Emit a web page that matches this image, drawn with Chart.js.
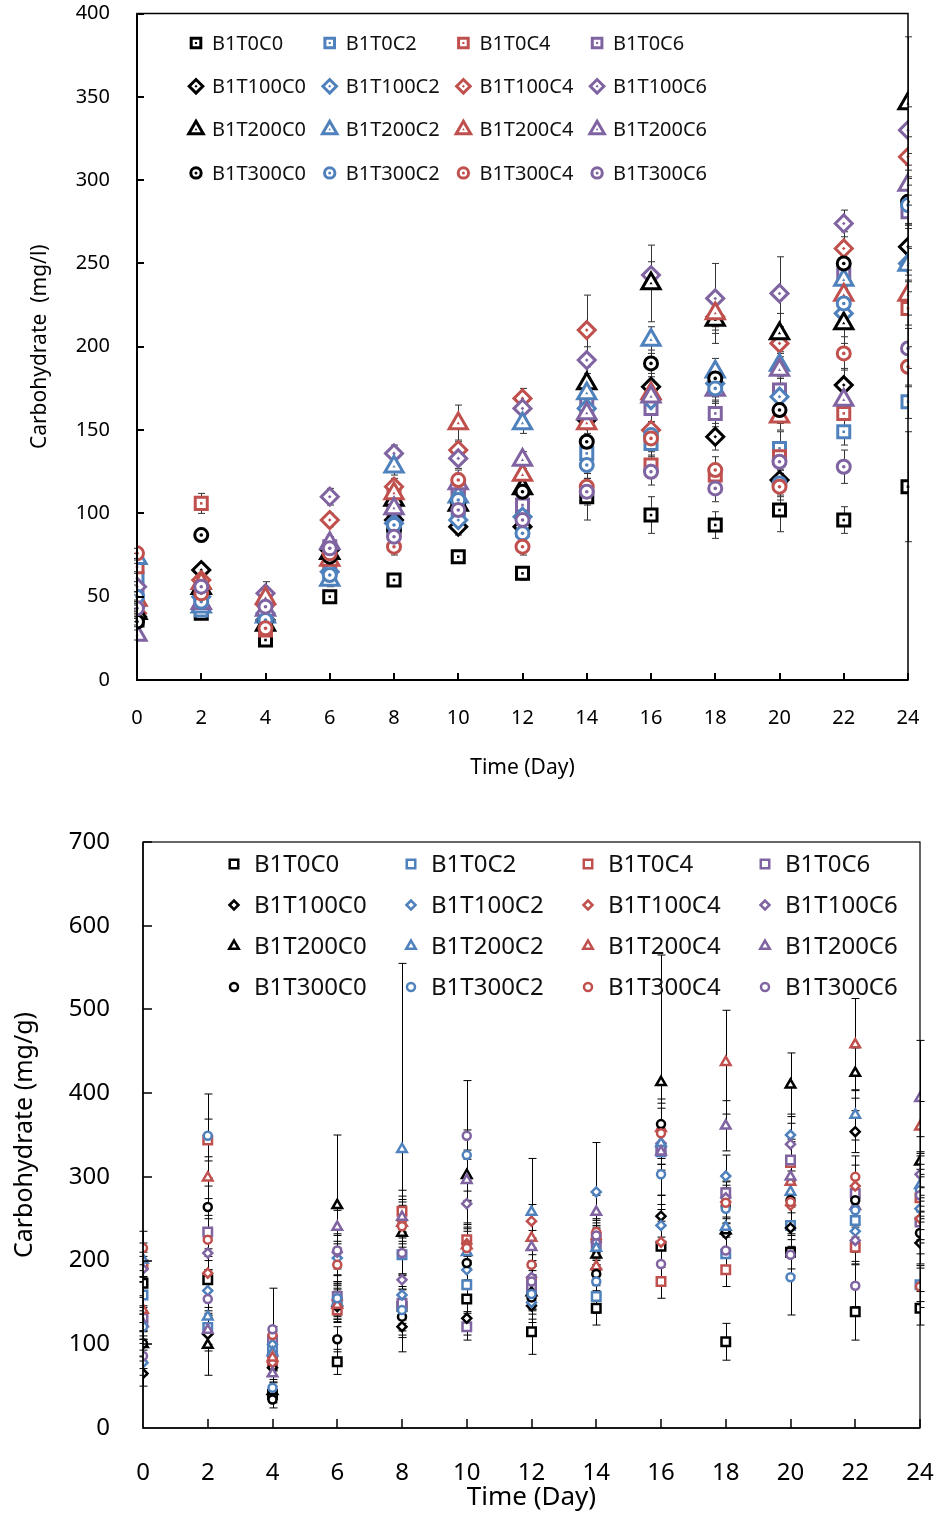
<!doctype html>
<html lang="en">
<head>
<meta charset="utf-8">
<script src="https://cdn.jsdelivr.net/npm/chart.js"></script>
<style>
  html, body { margin: 0; padding: 0; background: #fff; }
  .panel { position: absolute; left: 0; }
  canvas { display: block; }
</style>
</head>
<body>
<div class="panel" style="top:0"><canvas id="liquidChart" width="937" height="790"></canvas></div>
<div class="panel" style="top:790px"><canvas id="cellChart" width="937" height="725"></canvas></div>
<script>
// sampling days and series names
const days = [0, 2, 4, 6, 8, 10, 12, 14, 16, 18, 20, 22, 24];
const seriesLabels = ['B1T0C0', 'B1T0C2', 'B1T0C4', 'B1T0C6',
                      'B1T100C0', 'B1T100C2', 'B1T100C4', 'B1T100C6',
                      'B1T200C0', 'B1T200C2', 'B1T200C4', 'B1T200C6',
                      'B1T300C0', 'B1T300C2', 'B1T300C4', 'B1T300C6'];
const mglTicks = [0, 50, 100, 150, 200, 250, 300, 350, 400];
const mggTicks = [0, 100, 200, 300, 400, 500, 600, 700];
const dayTicks = [0, 2, 4, 6, 8, 10, 12, 14, 16, 18, 20, 22, 24];

// carbohydrate in medium (mg/l)
const mglT0C0   = [36, 40, 24, 50, 60, 74, 64, 110, 99, 93, 102, 96, 116];
const mglT0C2   = [61, 42, 33, 62, 92, 100, 90, 136, 142, 176, 139, 149, 167];
const mglT0C4   = [68, 106, 30, 70, 110, 112, 100, 158, 129, 123, 134, 160, 223];
const mglT0C6   = [50, 48, 38, 80, 100, 115, 105, 167, 163, 160, 174, 243, 281];
const mglT100C0 = [38, 66, 36, 78, 96, 92, 92, 156, 176, 146, 120, 177, 260];
const mglT100C2 = [45, 50, 40, 65, 94, 96, 98, 163, 168, 178, 170, 220, 250];
const mglT100C4 = [40, 60, 45, 96, 116, 138, 169, 210, 150, 218, 202, 259, 314];
const mglT100C6 = [56, 55, 52, 110, 136, 133, 163, 192, 243, 229, 232, 274, 330];
const mglT200C0 = [40, 55, 33, 76, 108, 105, 115, 178, 238, 216, 208, 214, 346];
const mglT200C2 = [73, 44, 38, 60, 128, 110, 154, 172, 204, 185, 189, 240, 249];
const mglT200C4 = [48, 58, 49, 72, 112, 154, 123, 154, 172, 220, 158, 231, 231];
const mglT200C6 = [27, 46, 42, 82, 103, 118, 132, 160, 170, 174, 186, 168, 297];
const mglT300C0 = [35, 87, 35, 74, 90, 106, 113, 143, 190, 181, 162, 250, 287];
const mglT300C2 = [50, 47, 36, 63, 93, 108, 88, 129, 147, 175, 118, 226, 285];
const mglT300C4 = [76, 52, 31, 76, 80, 120, 80, 116, 145, 126, 116, 196, 188];
const mglT300C6 = [43, 56, 44, 79, 86, 102, 96, 113, 125, 115, 131, 128, 199];

// standard deviations (mg/l)
const mglT0C0Sd   = [3, 3, 3, 3, 3, 3, 4, 14, 11, 8, 13, 8, 33];
const mglT0C2Sd   = [4, 4, 3, 4, 4, 5, 4, 6, 8, 6, 10, 8, 10];
const mglT0C4Sd   = [4, 6, 3, 4, 5, 5, 4, 6, 6, 5, 8, 8, 10];
const mglT0C6Sd   = [3, 3, 3, 4, 4, 5, 5, 6, 8, 8, 8, 8, 10];
const mglT100C0Sd = [3, 4, 3, 4, 5, 5, 4, 8, 8, 8, 9, 10, 14];
const mglT100C2Sd = [3, 3, 3, 3, 4, 5, 4, 6, 8, 8, 8, 8, 10];
const mglT100C4Sd = [3, 4, 3, 4, 5, 6, 6, 21, 10, 8, 10, 10, 12];
const mglT100C6Sd = [3, 3, 7, 5, 5, 6, 6, 8, 8, 21, 22, 8, 14];
const mglT200C0Sd = [3, 3, 3, 4, 5, 6, 5, 10, 23, 14, 12, 12, 40];
const mglT200C2Sd = [3, 3, 3, 4, 5, 6, 6, 8, 8, 8, 8, 10, 10];
const mglT200C4Sd = [3, 3, 3, 4, 5, 11, 6, 8, 8, 8, 8, 10, 12];
const mglT200C6Sd = [3, 3, 3, 4, 5, 6, 5, 8, 8, 8, 8, 10, 12];
const mglT300C0Sd = [3, 4, 3, 4, 5, 6, 5, 8, 8, 8, 8, 10, 14];
const mglT300C2Sd = [3, 3, 3, 4, 5, 6, 5, 8, 8, 8, 8, 10, 12];
const mglT300C4Sd = [3, 3, 3, 4, 5, 6, 5, 8, 8, 8, 8, 10, 12];
const mglT300C6Sd = [3, 3, 3, 4, 5, 6, 5, 8, 8, 8, 8, 10, 12];

// carbohydrate in cells (mg/g)
const mggT0C0   = [173, 177, 40, 79, 145, 154, 115, 143, 217, 103, 210, 139, 143];
const mggT0C2   = [159, 120, 95, 150, 207, 171, 165, 157, 330, 208, 242, 248, 171];
const mggT0C4   = [195, 344, 80, 141, 259, 225, 175, 228, 175, 189, 317, 216, 275];
const mggT0C6   = [131, 234, 105, 157, 149, 121, 170, 220, 333, 281, 320, 280, 246];
const mggT100C0 = [65, 112, 72, 145, 121, 131, 146, 190, 253, 232, 239, 354, 221];
const mggT100C2 = [78, 164, 100, 203, 159, 189, 150, 282, 242, 301, 350, 235, 262];
const mggT100C4 = [121, 185, 78, 153, 248, 220, 247, 225, 222, 270, 266, 289, 250];
const mggT100C6 = [190, 209, 88, 210, 177, 268, 180, 222, 340, 275, 339, 224, 303];
const mggT200C0 = [100, 99, 44, 266, 233, 302, 162, 207, 413, 236, 410, 424, 318];
const mggT200C2 = [201, 133, 90, 150, 333, 210, 258, 215, 340, 240, 282, 374, 290];
const mggT200C4 = [141, 299, 84, 147, 245, 218, 227, 193, 358, 437, 294, 458, 360];
const mggT200C6 = [125, 117, 65, 240, 252, 296, 216, 258, 330, 361, 300, 265, 394];
const mggT300C0 = [101, 264, 34, 106, 133, 197, 156, 184, 363, 265, 272, 272, 233];
const mggT300C2 = [121, 349, 48, 155, 141, 326, 160, 175, 303, 262, 180, 260, 284];
const mggT300C4 = [215, 225, 111, 195, 241, 215, 195, 234, 352, 269, 270, 300, 169];
const mggT300C6 = [86, 154, 118, 212, 209, 349, 175, 230, 196, 212, 207, 170, 278];

// standard deviations (mg/g)
const mggT0C0Sd   = [15, 12, 10, 15, 20, 15, 27, 20, 25, 22, 20, 34, 20];
const mggT0C2Sd   = [15, 20, 10, 15, 25, 20, 18, 20, 25, 20, 25, 20, 20];
const mggT0C4Sd   = [15, 25, 10, 15, 25, 20, 18, 20, 20, 20, 25, 20, 25];
const mggT0C6Sd   = [15, 20, 10, 15, 20, 16, 18, 20, 25, 20, 25, 20, 25];
const mggT100C0Sd = [15, 20, 10, 15, 30, 20, 20, 20, 25, 20, 25, 25, 25];
const mggT100C2Sd = [15, 20, 10, 20, 25, 20, 20, 59, 25, 25, 25, 25, 25];
const mggT100C4Sd = [15, 20, 10, 20, 25, 20, 20, 20, 25, 25, 25, 25, 25];
const mggT100C6Sd = [15, 20, 10, 20, 25, 25, 20, 20, 25, 25, 25, 25, 25];
const mggT200C0Sd = [15, 36, 10, 84, 30, 30, 20, 20, 152, 25, 38, 30, 30];
const mggT200C2Sd = [20, 20, 10, 20, 222, 20, 64, 20, 25, 25, 25, 30, 25];
const mggT200C4Sd = [15, 25, 10, 20, 25, 20, 20, 20, 30, 62, 25, 55, 30];
const mggT200C6Sd = [15, 20, 10, 20, 25, 25, 20, 20, 25, 30, 25, 25, 69];
const mggT300C0Sd = [15, 25, 10, 15, 25, 20, 20, 20, 30, 25, 25, 25, 25];
const mggT300C2Sd = [15, 50, 10, 20, 25, 30, 20, 20, 25, 25, 45, 25, 25];
const mggT300C4Sd = [20, 25, 10, 20, 25, 20, 20, 20, 30, 25, 25, 25, 25];
const mggT300C6Sd = [15, 20, 49, 20, 25, 66, 20, 20, 25, 25, 25, 25, 25];

const mglValues = [mglT0C0, mglT0C2, mglT0C4, mglT0C6, mglT100C0, mglT100C2, mglT100C4, mglT100C6,
                   mglT200C0, mglT200C2, mglT200C4, mglT200C6, mglT300C0, mglT300C2, mglT300C4, mglT300C6];
const mglErrors = [mglT0C0Sd, mglT0C2Sd, mglT0C4Sd, mglT0C6Sd, mglT100C0Sd, mglT100C2Sd, mglT100C4Sd, mglT100C6Sd,
                   mglT200C0Sd, mglT200C2Sd, mglT200C4Sd, mglT200C6Sd, mglT300C0Sd, mglT300C2Sd, mglT300C4Sd, mglT300C6Sd];
const mggValues = [mggT0C0, mggT0C2, mggT0C4, mggT0C6, mggT100C0, mggT100C2, mggT100C4, mggT100C6,
                   mggT200C0, mggT200C2, mggT200C4, mggT200C6, mggT300C0, mggT300C2, mggT300C4, mggT300C6];
const mggErrors = [mggT0C0Sd, mggT0C2Sd, mggT0C4Sd, mggT0C6Sd, mggT100C0Sd, mggT100C2Sd, mggT100C4Sd, mggT100C6Sd,
                   mggT200C0Sd, mggT200C2Sd, mggT200C4Sd, mggT200C6Sd, mggT300C0Sd, mggT300C2Sd, mggT300C4Sd, mggT300C6Sd];

const seriesColours = ['#000000', '#4F81BD', '#C0504D', '#8064A2']; // C0, C2, C4, C6
const seriesShapes = ['rect', 'rectRot', 'triangle', 'circle'];     // T0, T100, T200, T300

Chart.defaults.font.family = "'Noto Sans', sans-serif";
Chart.defaults.color = '#000';

// same geometry as Chart.js point styles
function markerPath(ctx, shape, x, y, r) {
  ctx.beginPath();
  if (shape === 'rect') {
    const s = r * Math.SQRT1_2;
    ctx.rect(x - s, y - s, 2 * s, 2 * s);
  } else if (shape === 'rectRot') {
    ctx.moveTo(x - r, y); ctx.lineTo(x, y - r); ctx.lineTo(x + r, y); ctx.lineTo(x, y + r);
    ctx.closePath();
  } else if (shape === 'triangle') {
    for (let k = 0; k < 3; k++) {
      const a = k * 2 * Math.PI / 3;
      const px = x + Math.sin(a) * r, py = y - Math.cos(a) * r;
      if (k) ctx.lineTo(px, py); else ctx.moveTo(px, py);
    }
    ctx.closePath();
  } else {
    ctx.arc(x, y, r, 0, 2 * Math.PI);
  }
}

function buildDatasets(values, errors, sizes, border) {
  return values.map((vals, i) => {
    const shape = seriesShapes[Math.floor(i / 4)];
    const colour = seriesColours[i % 4];
    return {
      label: seriesLabels[i],
      data: vals.map((v, j) => ({ x: days[j], y: v })),
      errors: errors[i],
      order: values.length - i,
      showLine: false,
      pointStyle: shape,
      pointRadius: sizes[shape],
      pointHoverRadius: sizes[shape],
      pointBorderWidth: border,
      pointHoverBorderWidth: border,
      pointBorderColor: colour,
      pointBackgroundColor: '#ffffff',
      borderColor: colour,
      backgroundColor: '#ffffff'
    };
  });
}

const errorBars = {
  id: 'errorBars',
  beforeDatasetsDraw(chart, args, opts) {
    const { ctx, scales: { y } } = chart;
    ctx.save();
    ctx.strokeStyle = opts.color;
    ctx.lineWidth = opts.width;
    ctx.beginPath();
    chart.data.datasets.forEach((ds, i) => {
      chart.getDatasetMeta(i).data.forEach((pt, j) => {
        const v = ds.data[j].y, e = ds.errors[j];
        const hi = y.getPixelForValue(v + e), lo = y.getPixelForValue(Math.max(v - e, 0));
        const x = Math.round(pt.x) + 0.5;
        ctx.moveTo(x, hi); ctx.lineTo(x, lo);
        ctx.moveTo(x - opts.cap, hi); ctx.lineTo(x + opts.cap, hi);
        ctx.moveTo(x - opts.cap, lo); ctx.lineTo(x + opts.cap, lo);
      });
    });
    ctx.stroke();
    ctx.restore();
  }
};

const innerDots = {
  id: 'innerDots',
  afterDatasetDraw(chart, args, opts) {
    if (!opts.radius) return;
    const ctx = chart.ctx, ds = chart.data.datasets[args.index];
    ctx.save();
    ctx.fillStyle = ds.pointBorderColor;
    args.meta.data.forEach(pt => { markerPath(ctx, ds.pointStyle, pt.x, pt.y, opts.radius); ctx.fill(); });
    ctx.restore();
  }
};

// box round the plot with inward tick marks
const frame = {
  id: 'frame',
  afterDraw(chart, args, opts) {
    const { ctx, chartArea: a, scales: { x, y } } = chart;
    ctx.save();
    ctx.strokeStyle = '#000';
    ctx.lineWidth = opts.width;
    ctx.strokeRect(a.left, a.top, a.right - a.left, a.bottom - a.top);
    ctx.lineWidth = opts.axisWidth;
    ctx.beginPath();
    ctx.moveTo(a.left, a.top); ctx.lineTo(a.left, a.bottom); ctx.lineTo(a.right, a.bottom);
    y.ticks.forEach(t => {
      const py = Math.round(y.getPixelForValue(t.value));
      ctx.moveTo(a.left, py); ctx.lineTo(a.left + opts.tick, py);
    });
    x.ticks.forEach(t => {
      const px = Math.round(x.getPixelForValue(t.value));
      ctx.moveTo(px, a.bottom); ctx.lineTo(px, a.bottom - opts.tick);
    });
    ctx.stroke();
    ctx.restore();
  }
};

// 4 x 4 legend inside the plot
const gridLegend = {
  id: 'gridLegend',
  afterDraw(chart, args, o) {
    const ctx = chart.ctx;
    ctx.save();
    ctx.font = o.font;
    ctx.textBaseline = 'middle';
    chart.data.datasets.forEach((ds, i) => {
      const mx = o.x0 + (i % 4) * o.dx, my = o.y0 + Math.floor(i / 4) * o.dy;
      markerPath(ctx, ds.pointStyle, mx, my, ds.pointRadius * o.scale);
      ctx.fillStyle = '#fff';
      ctx.fill();
      ctx.strokeStyle = ds.pointBorderColor;
      ctx.lineWidth = ds.pointBorderWidth;
      ctx.stroke();
      if (o.dot) {
        markerPath(ctx, ds.pointStyle, mx, my, o.dot);
        ctx.fillStyle = ds.pointBorderColor;
        ctx.fill();
      }
      ctx.fillStyle = '#111';
      ctx.fillText(ds.label, mx + o.gap, my + 1);
    });
    ctx.restore();
  }
};

function makeChart(id, cfg) {
  return new Chart(document.getElementById(id), {
    type: 'scatter',
    data: { datasets: buildDatasets(cfg.values, cfg.errors, cfg.sizes, cfg.border) },
    plugins: [errorBars, innerDots, frame, gridLegend],
    options: {
      responsive: false,
      animation: false,
      events: [],
      layout: { padding: cfg.padding },
      plugins: {
        legend: { display: false },
        tooltip: { enabled: false },
        errorBars: cfg.errorBars,
        innerDots: { radius: cfg.dot },
        frame: cfg.frame,
        gridLegend: cfg.legend
      },
      scales: {
        x: {
          type: 'linear', min: 0, max: 24,
          afterBuildTicks: s => { s.ticks = dayTicks.map(v => ({ value: v })); },
          ticks: { padding: cfg.xPad, font: { size: cfg.tickSize }, color: '#000' },
          grid: { display: false, drawTicks: false },
          border: { display: false },
          title: { display: true, text: 'Time (Day)', font: { size: cfg.xTitleSize }, padding: { top: 0, bottom: cfg.xTitlePad } },
          afterFit: s => { s.height = cfg.xHeight; s.paddingLeft = 0; s.paddingRight = 0; }
        },
        y: {
          type: 'linear', min: 0, max: cfg.yTicks[cfg.yTicks.length - 1],
          afterBuildTicks: s => { s.ticks = cfg.yTicks.map(v => ({ value: v })); },
          ticks: { padding: cfg.yPad, font: { size: cfg.tickSize }, color: '#000' },
          grid: { display: false, drawTicks: false },
          border: { display: false },
          title: { display: true, text: cfg.yTitle, font: { size: cfg.yTitleSize }, padding: { top: cfg.yTitlePad, bottom: 0 } },
          afterFit: s => { s.width = cfg.yWidth; s.paddingTop = 0; s.paddingBottom = 0; }
        }
      }
    }
  });
}

makeChart('liquidChart', {
  values: mglValues, errors: mglErrors,
  sizes: { rect: 8.5, rectRot: 8.5, triangle: 10.5, circle: 6.5 }, border: 3, dot: 1.8,
  padding: { top: 12, right: 29, left: 0, bottom: 0 },
  errorBars: { color: '#333', width: 1, cap: 3.5 },
  frame: { width: 1.5, axisWidth: 2, tick: 7 },
  legend: { font: "20px 'Noto Sans', sans-serif", x0: 196, y0: 43, dx: 133.7, dy: 43.3, gap: 16, dot: 1.5, scale: 0.8 },
  yTicks: mglTicks, tickSize: 20, xPad: 26, yPad: 27,
  xTitleSize: 21, xTitlePad: 9, xHeight: 110,
  yTitle: 'Carbohydrate  (mg/l)', yTitleSize: 21, yTitlePad: 27, yWidth: 137
});

makeChart('cellChart', {
  values: mggValues, errors: mggErrors,
  sizes: { rect: 6, rectRot: 4.5, triangle: 5.5, circle: 4 }, border: 2.5, dot: 0,
  padding: { top: 52, right: 17, left: 0, bottom: 0 },
  errorBars: { color: '#000', width: 1, cap: 4 },
  frame: { width: 1.2, axisWidth: 1.5, tick: 9 },
  legend: { font: "24px 'Noto Sans', sans-serif", x0: 234, y0: 74, dx: 177, dy: 41, gap: 20, dot: 0, scale: 1 },
  yTicks: mggTicks, tickSize: 24, xPad: 31, yPad: 33,
  xTitleSize: 26, xTitlePad: 2, xHeight: 87,
  yTitle: 'Carbohydrate (mg/g)', yTitleSize: 25, yTitlePad: 10, yWidth: 143
});
</script>
</body>
</html>
